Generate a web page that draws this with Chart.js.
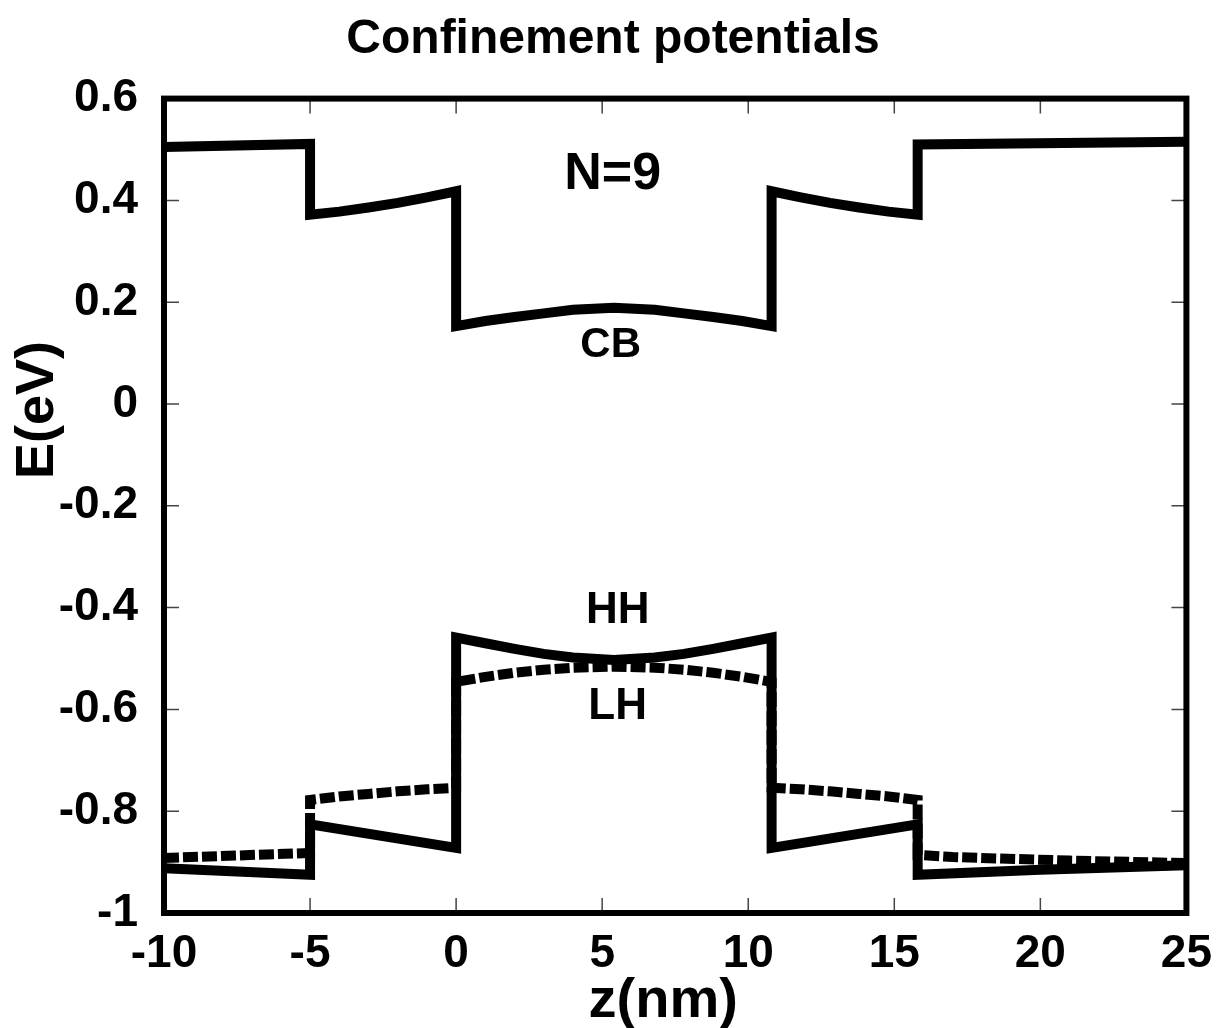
<!DOCTYPE html>
<html>
<head>
<meta charset="utf-8">
<script src="https://cdn.jsdelivr.net/npm/chart.js@4/dist/chart.umd.min.js"></script>
<style>
  body { margin: 0; background: #fff; }
</style>
</head>
<body>
<canvas id="potChart" width="1226" height="1028"></canvas>
<script>
// tick values
var xTicks = [-10, -5, 0, 5, 10, 15, 20, 25];
var yTicks = [0.6, 0.4, 0.2, 0, -0.2, -0.4, -0.6, -0.8, -1];

// conduction band
var zCB = [-10, -5, -5, -4, -3, -2, -1, 0, 0, 1, 2, 3, 4, 5.4, 6.8, 7.8, 8.8, 9.8, 10.8, 10.8, 11.8, 12.8, 13.8, 14.8, 15.8, 15.8, 25];
var eCB = [0.505, 0.511, 0.372, 0.378, 0.386, 0.395, 0.406, 0.418, 0.153, 0.163, 0.171, 0.178, 0.185, 0.189, 0.185, 0.178, 0.171, 0.163, 0.153, 0.418, 0.406, 0.395, 0.386, 0.378, 0.372, 0.510, 0.515];

// heavy hole
var zHH = [-10, -5, -5, 0, 0, 1, 2, 3, 4, 5.4, 6.8, 7.8, 8.8, 9.8, 10.8, 10.8, 15.8, 15.8, 20, 25];
var eHH = [-0.912, -0.925, -0.826, -0.872, -0.459, -0.470, -0.481, -0.491, -0.498, -0.503, -0.498, -0.491, -0.481, -0.470, -0.459, -0.872, -0.826, -0.925, -0.915, -0.906];

// light hole
var zLH = [-10, -5, -5, -4, -3, -2, -1, 0, 0, 1, 2, 3, 4, 5.4, 6.8, 7.8, 8.8, 9.8, 10.8, 10.8, 11.8, 12.8, 13.8, 14.8, 15.8, 15.8, 17, 18.6, 21, 25];
var eLH = [-0.892, -0.882, -0.778, -0.771, -0.766, -0.761, -0.757, -0.754, -0.546, -0.536, -0.528, -0.522, -0.518, -0.516, -0.518, -0.522, -0.528, -0.536, -0.546, -0.754, -0.757, -0.761, -0.766, -0.771, -0.778, -0.886, -0.890, -0.893, -0.897, -0.902];

// text labels inside the plot (data coords)
var notes = [
  {text: 'N=9', z: 5.36, e: 0.451, size: 52},
  {text: 'CB', z: 5.29, e: 0.115, size: 42},
  {text: 'HH', z: 5.53, e: -0.406, size: 44},
  {text: 'LH', z: 5.53, e: -0.595, size: 44}
];

function pts(xs, ys) {
  return xs.map(function (x, i) { return {x: x, y: ys[i]}; });
}

var FONT = '"Liberation Sans", Arial, Helvetica, sans-serif';

// frame, inward ticks, axis titles and notes
var framePlugin = {
  id: 'frame',
  afterDatasetsDraw: function (chart) {
    var ctx = chart.ctx, a = chart.chartArea;
    var xs = chart.scales.x, ys = chart.scales.y;
    ctx.save();
    // ticks
    ctx.strokeStyle = '#444';
    ctx.lineWidth = 1.5;
    ctx.beginPath();
    xTicks.forEach(function (v) {
      var px = xs.getPixelForValue(v);
      ctx.moveTo(px, a.bottom); ctx.lineTo(px, a.bottom - 15);
      ctx.moveTo(px, a.top); ctx.lineTo(px, a.top + 15);
    });
    yTicks.forEach(function (v) {
      var py = ys.getPixelForValue(v);
      ctx.moveTo(a.left, py); ctx.lineTo(a.left + 15, py);
      ctx.moveTo(a.right, py); ctx.lineTo(a.right - 15, py);
    });
    ctx.stroke();
    // frame
    ctx.strokeStyle = '#000';
    ctx.lineWidth = 6;
    ctx.strokeRect(a.left, a.top, a.right - a.left, a.bottom - a.top);

    // notes
    ctx.fillStyle = '#000';
    ctx.textAlign = 'center';
    ctx.textBaseline = 'middle';
    notes.forEach(function (n) {
      ctx.font = 'bold ' + n.size + 'px ' + FONT;
      ctx.fillText(n.text, xs.getPixelForValue(n.z), ys.getPixelForValue(n.e));
    });

    // axis titles
    ctx.font = 'bold 56px ' + FONT;
    ctx.textBaseline = 'alphabetic';
    ctx.fillText('z(nm)', (a.left + a.right) / 2 - 12, a.bottom + 104);
    ctx.save();
    ctx.translate(53, 410);
    ctx.rotate(-Math.PI / 2);
    ctx.font = 'bold 54px ' + FONT;
    ctx.fillText('E(eV)', 0, 0);
    ctx.restore();
    ctx.restore();
  }
};

var lineStyle = {
  showLine: true,
  borderColor: '#000',
  backgroundColor: '#000',
  borderWidth: 10,
  pointRadius: 0,
  tension: 0,
  borderJoinStyle: 'miter',
  borderCapStyle: 'butt',
  fill: false
};

new Chart(document.getElementById('potChart'), {
  type: 'scatter',
  data: {
    datasets: [
      Object.assign({label: 'CB', data: pts(zCB, eCB)}, lineStyle),
      Object.assign({label: 'HH', data: pts(zHH, eHH)}, lineStyle),
      Object.assign({label: 'LH', data: pts(zLH, eLH), borderDash: [15, 4]}, lineStyle)
    ]
  },
  options: {
    responsive: false,
    animation: false,
    layout: { padding: 0 },
    plugins: {
      legend: { display: false },
      tooltip: { enabled: false },
      title: {
        display: true,
        text: 'Confinement potentials',
        color: '#000',
        font: { family: FONT, size: 48, weight: 'bold', lineHeight: 1.2 },
        padding: { top: 11, bottom: 30 }
      }
    },
    scales: {
      x: {
        type: 'linear',
        min: -10,
        max: 25,
        grid: { display: false, drawTicks: false },
        border: { display: false },
        afterBuildTicks: function (s) { s.ticks = xTicks.map(function (v) { return {value: v}; }); },
        afterFit: function (s) { s.height = 115; },
        ticks: {
          color: '#000',
          padding: 14,
          maxRotation: 0,
          font: { family: FONT, size: 46, weight: 'bold' }
        }
      },
      y: {
        type: 'linear',
        min: -1,
        max: 0.6,
        grid: { display: false, drawTicks: false },
        border: { display: false },
        afterBuildTicks: function (s) { s.ticks = yTicks.map(function (v) { return {value: v}; }); },
        afterFit: function (s) { s.width = 164; },
        ticks: {
          color: '#000',
          padding: 26,
          font: { family: FONT, size: 46, weight: 'bold' },
          callback: function (v) { return String(Math.round(v * 10) / 10); }
        }
      },
      // empty right axis that only reserves the right margin
      yRight: {
        type: 'linear',
        position: 'right',
        min: -1,
        max: 0.6,
        grid: { display: false, drawTicks: false },
        border: { display: false },
        ticks: { display: false },
        afterFit: function (s) { s.width = 39; }
      }
    }
  },
  plugins: [framePlugin]
});
</script>
</body>
</html>
